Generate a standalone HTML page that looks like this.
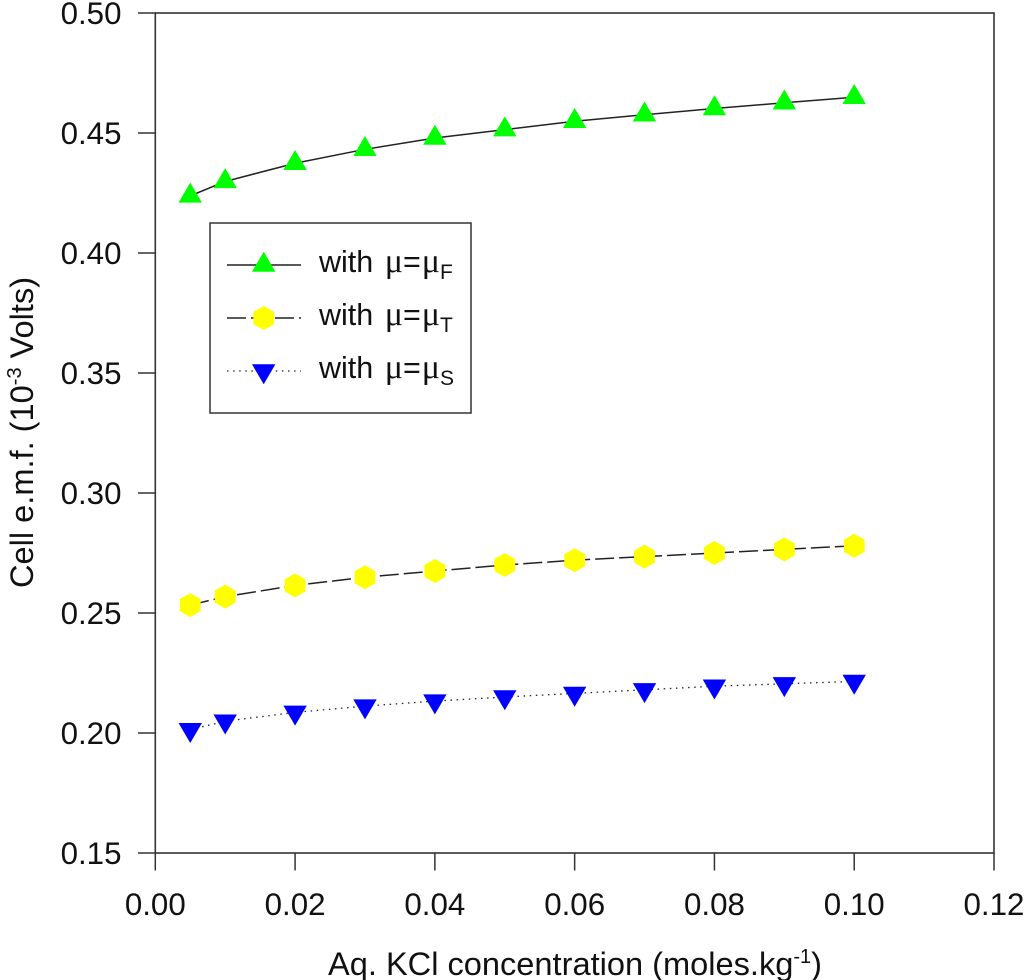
<!DOCTYPE html>
<html lang="en">
<head>
<meta charset="utf-8">
<title>Cell e.m.f. vs Aq. KCl concentration</title>
<style>
html,body{margin:0;padding:0;background:#fff;}
svg{display:block;}
text{font-family:"Liberation Sans",sans-serif;fill:#111;}
.mu{font-family:"Liberation Serif",serif;font-size:34px;}
</style>
</head>
<body>
<svg id="chart" xmlns="http://www.w3.org/2000/svg" width="1024" height="980" viewBox="0 0 1024 980">
  <rect x="155.3" y="13" width="838.7" height="840" fill="none" stroke="#333" stroke-width="1.6"/>
  <g id="axes"></g>
  <g id="series"></g>
  <text x="328" y="975" font-size="32.6">Aq. KCl concentration (moles.kg<tspan dy="-12" font-size="20">-1</tspan><tspan dy="12">)</tspan></text>
  <text transform="translate(33,588) rotate(-90)" font-size="32.6">Cell e.m.f. (10<tspan dy="-12" font-size="20">-3</tspan><tspan dy="12"> Volts)</tspan></text>
  <g id="legend">
    <rect x="210" y="223" width="261" height="190" fill="#fff" stroke="#333" stroke-width="1.5"/>
    <text x="319" y="272" font-size="30.5">with <tspan class="mu" dx="3">μ</tspan>=<tspan class="mu" dx="1">μ</tspan><tspan dy="7" font-size="21">F</tspan></text>
    <text x="319" y="325" font-size="30.5">with <tspan class="mu" dx="3">μ</tspan>=<tspan class="mu" dx="1">μ</tspan><tspan dy="7" font-size="21">T</tspan></text>
    <text x="319" y="378" font-size="30.5">with <tspan class="mu" dx="3">μ</tspan>=<tspan class="mu" dx="1">μ</tspan><tspan dy="7" font-size="21">S</tspan></text>
  </g>
</svg>
<script>
const concentrations = [0.005, 0.01, 0.02, 0.03, 0.04, 0.05, 0.06, 0.07, 0.08, 0.09, 0.10];
const emfWithMuF = [0.4238, 0.4298, 0.4374, 0.4432, 0.4479, 0.4514, 0.4549, 0.4576, 0.4602, 0.4626, 0.4649];
const emfWithMuT = [0.2533, 0.2568, 0.2615, 0.2649, 0.2675, 0.270, 0.272, 0.2735, 0.275, 0.2765, 0.278];
const emfWithMuS = [0.2014, 0.2049, 0.2086, 0.2112, 0.2133, 0.215, 0.2165, 0.218, 0.2195, 0.2205, 0.2215];
const xTickLabels = ["0.00", "0.02", "0.04", "0.06", "0.08", "0.10", "0.12"];
const yTickLabels = ["0.15", "0.20", "0.25", "0.30", "0.35", "0.40", "0.45", "0.50"];

const NS = "http://www.w3.org/2000/svg";
const xAxisMax = 0.12, yAxisMin = 0.15, yAxisMax = 0.50;
function sx(v) { return 155.3 + (v / xAxisMax) * 838.7; }
function sy(v) { return 853 - ((v - yAxisMin) / (yAxisMax - yAxisMin)) * 840; }

function make(tag, attrs, parent) {
  const el = document.createElementNS(NS, tag);
  for (const k in attrs) el.setAttribute(k, attrs[k]);
  parent.appendChild(el);
  return el;
}

const axes = document.getElementById("axes");
xTickLabels.forEach(function (label) {
  const x = sx(parseFloat(label));
  const tick = make("line", {x1: x, x2: x, y1: 853, y2: 870.5, stroke: "#333", "stroke-width": 1.5}, axes);
  
  
  const text = make("text", {x: x, y: 915, "font-size": 31.3, "text-anchor": "middle"}, axes);
  
  
  text.textContent = label;
});
yTickLabels.forEach(function (label) {
  const y = sy(parseFloat(label));
  const tick = make("line", {x1: 138, x2: 155.3, y1: y, y2: y, stroke: "#333", "stroke-width": 1.5}, axes);
  
  
  const text = make("text", {x: 121.5, y: y + 11, "font-size": 31.3, "text-anchor": "end"}, axes);
  
  
  text.textContent = label;
});

function markerPoints(kind, cx, cy) {
  if (kind === "up") {
    return [[cx, cy - 13.3], [cx + 11.7, cy + 6.7], [cx - 11.7, cy + 6.7]];
  }
  if (kind === "down") {
    return [[cx, cy + 13.3], [cx + 11.7, cy - 6.7], [cx - 11.7, cy - 6.7]];
  }
  return [[cx, cy - 12], [cx + 10.4, cy - 6], [cx + 10.4, cy + 6], [cx, cy + 12], [cx - 10.4, cy + 6], [cx - 10.4, cy - 6]];
}
function drawMarker(kind, color, cx, cy, parent) {
  const pts = markerPoints(kind, cx, cy).map(function (p) { return p[0] + "," + p[1]; }).join(" ");
  const marker = make("polygon", {points: pts, fill: color}, parent);
  
  
}

const seriesGroup = document.getElementById("series");
function drawSeries(values, kind, color, dash) {
  const pts = values.map(function (v, i) { return sx(concentrations[i]) + "," + sy(v); }).join(" ");
  const line = make("polyline", {points: pts, fill: "none", stroke: "#222", "stroke-width": dash === "1.5 4.6" ? 1.3 : 1.5, "stroke-dasharray": dash}, seriesGroup);
  
  
  values.forEach(function (v, i) {
    drawMarker(kind, color, sx(concentrations[i]), sy(v), seriesGroup);
  });
}
drawSeries(emfWithMuF, "up", "#00ff00", "none");
drawSeries(emfWithMuT, "hex", "#ffff00", "19 5");
drawSeries(emfWithMuS, "down", "#0000ff", "1.5 4.6");

const legend = document.getElementById("legend");
function drawLegendKey(y, kind, color, dash) {
  const key = make("line", {x1: 227, x2: 301, y1: y, y2: y, stroke: "#222", "stroke-width": dash === "1.5 4.6" ? 1.3 : 1.5, "stroke-dasharray": dash}, legend);
  
  
  drawMarker(kind, color, 263.7, y, legend);
}
drawLegendKey(265, "up", "#00ff00", "none");
drawLegendKey(318, "hex", "#ffff00", "19 5");
drawLegendKey(371, "down", "#0000ff", "1.5 4.6");
</script>
</body>
</html>
